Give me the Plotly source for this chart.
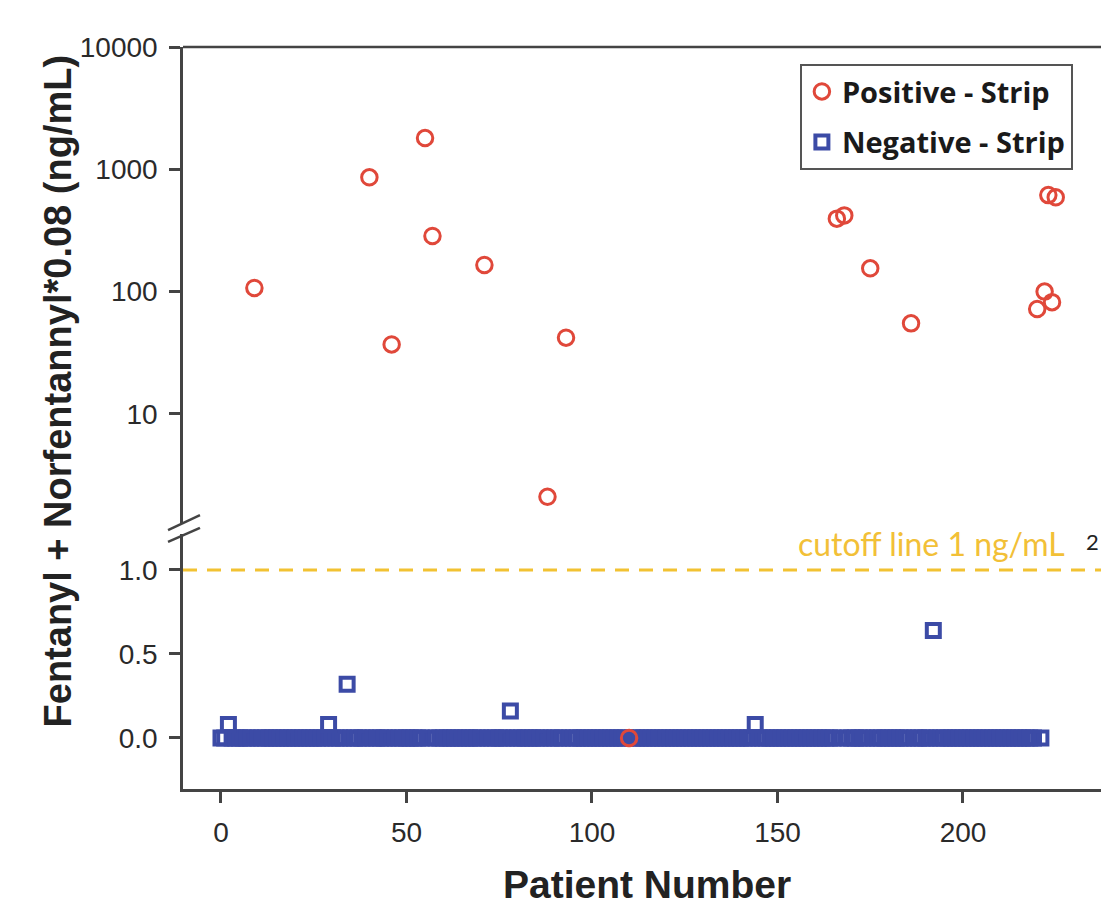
import plotly.graph_objects as go

# ---------------- data ----------------
# Positive - Strip (upper, log panel)
pos_x = [9, 40, 46, 55, 57, 71, 88, 93, 166, 168, 175, 186, 223, 225, 222, 224, 220]
pos_y = [107, 860, 37, 1800, 285, 165, 2.1, 42, 395, 420, 155, 55, 615, 590, 100, 82, 72]
# Positive - Strip (lower, linear panel)
pos_low_x = [110]
pos_low_y = [0.0]

# Negative - Strip raised values
neg_raised_x = [2, 29, 34, 78, 144, 192]
neg_raised_y = [0.08, 0.08, 0.32, 0.16, 0.08, 0.64]
# Negative - Strip at zero (patient numbers)
neg_zero_x = [
    0, 1, 3, 4, 5, 6, 7, 8, 10, 11, 12, 13, 14, 15, 16, 17, 18, 19, 20,
    21, 22, 23, 24, 25, 26, 27, 28, 30, 31, 32, 33, 35, 36, 37, 38, 39,
    41, 42, 43, 44, 45, 47, 48, 49, 50, 51, 52, 53, 54, 56, 58, 59, 60,
    61, 62, 63, 64, 65, 66, 67, 68, 69, 70, 72, 73, 74, 75, 76, 77, 79, 80,
    81, 82, 83, 84, 85, 86, 87, 89, 90, 91, 92, 94, 95, 96, 97, 98, 99, 100,
    101, 102, 103, 104, 105, 106, 107, 108, 109, 111, 112, 113, 114, 115,
    116, 117, 118, 119, 120, 121, 122, 123, 124, 125, 126, 127, 128, 129,
    130, 131, 132, 133, 134, 135, 136, 137, 138, 139, 140, 141, 142, 143,
    145, 146, 147, 148, 149, 150, 151, 152, 153, 154, 155, 156, 157, 158,
    159, 160, 161, 162, 163, 164, 165, 167, 169, 170, 171, 172, 173, 174,
    176, 177, 178, 179, 180, 181, 182, 183, 184, 185, 187, 188, 189, 190,
    191, 193, 194, 195, 196, 197, 198, 199, 200, 201, 202, 203, 204, 205,
    206, 207, 208, 209, 210, 211, 212, 213, 214, 215, 216, 217, 218, 219, 221,
]
neg_zero_y = [0.0] * len(neg_zero_x)

cutoff_value = 1.0
x_ticks = [0, 50, 100, 150, 200]
low_ticks = [0.0, 0.5, 1.0]
low_ticktext = ["0.0", "0.5", "1.0"]
log_ticks = [10, 100, 1000, 10000]
log_ticktext = ["10", "100", "1000", "10000"]

# ---------------- style ----------------
RED = "#e0483a"
BLUE = "#3c4ba6"
AX = "#444444"
TICKFONT = dict(family="Liberation Sans, Arial", size=28, color="#2a2a2a")

fig = go.Figure()

fig.add_trace(go.Scatter(
    x=neg_zero_x + neg_raised_x, y=neg_zero_y + neg_raised_y,
    xaxis="x", yaxis="y", mode="markers", name="Negative - Strip",
    legendgroup="neg", legendrank=2,
    marker=dict(symbol="square-open", size=13, color=BLUE, line=dict(width=4, color=BLUE)),
))
fig.add_trace(go.Scatter(
    x=pos_x, y=pos_y, xaxis="x", yaxis="y2", mode="markers", name="Positive - Strip",
    legendgroup="pos", legendrank=1,
    marker=dict(symbol="circle-open", size=15.5, color=RED, line=dict(width=3, color=RED)),
))
fig.add_trace(go.Scatter(
    x=pos_low_x, y=pos_low_y, xaxis="x", yaxis="y", mode="markers", name="Positive - Strip",
    legendgroup="pos", showlegend=False,
    marker=dict(symbol="circle-open", size=15.5, color=RED, line=dict(width=3, color=RED)),
))

axis_common = dict(
    showline=True, linecolor=AX, linewidth=2.5, ticks="outside", ticklen=11,
    tickwidth=2.5, tickcolor=AX, tickfont=TICKFONT, showgrid=False, zeroline=False,
)

fig.update_layout(
    width=1101, height=912,
    margin=dict(l=183, r=0, t=47, b=123),
    plot_bgcolor="white", paper_bgcolor="white",
    xaxis=dict(range=[-10.24, 237.2], domain=[0, 1], anchor="y",
               tickvals=x_ticks, ticklabelstandoff=6, **axis_common),
    yaxis=dict(domain=[0, 0.343], range=[-0.3036, 1.2113], anchor="x",
               tickvals=low_ticks, ticktext=low_ticktext, ticklabelstandoff=6, **axis_common),
    yaxis2=dict(type="log", domain=[0.357, 1], range=[0.099, 4], anchor="x",
                tickvals=log_ticks, ticktext=log_ticktext, ticklabelstandoff=6, **axis_common),
    legend=dict(x=0.672, y=0.977, xanchor="left", yanchor="top",
                bordercolor="#555555", borderwidth=2, bgcolor="white",
                font=dict(family="Open Sans", size=29, color="#1a1a1a", weight="bold"),
                tracegroupgap=10),
    showlegend=True,
)

# cutoff line
fig.add_shape(type="line", xref="paper", x0=0, x1=1, yref="y", y0=cutoff_value, y1=cutoff_value,
              line=dict(color="#f2c232", width=3, dash="14px,10px"), layer="above")
# top spine
fig.add_shape(type="line", xref="paper", x0=0, x1=1, yref="paper", y0=1, y1=1,
              line=dict(color=AX, width=2.5))
# axis break marks
fig.add_shape(type="line", xref="paper", yref="paper", x0=-0.0163, x1=0.0185, y0=0.349, y1=0.369,
              line=dict(color=AX, width=2.5), layer="above")
fig.add_shape(type="line", xref="paper", yref="paper", x0=-0.0163, x1=0.0185, y0=0.333, y1=0.352,
              line=dict(color=AX, width=2.5), layer="above")

fig.add_annotation(text="Fentanyl + Norfentannyl*0.08 (ng/mL)", textangle=-90,
                   xref="paper", yref="paper", x=-0.136, y=0.536, xanchor="center", yanchor="middle",
                   showarrow=False, font=dict(family="Liberation Sans, Arial", size=38, color="#222222", weight="bold"))
fig.add_annotation(text="Patient Number", xref="paper", yref="paper", x=0.505, y=-0.129,
                   xanchor="center", yanchor="middle", showarrow=False,
                   font=dict(family="Liberation Sans, Arial", size=39, color="#222222", weight="bold"))
fig.add_annotation(text="cutoff line 1 ng/mL", xref="paper", yref="y", x=0.815, y=1.16,
                   xanchor="center", yanchor="middle", showarrow=False,
                   font=dict(family="Lato", size=32, color="#f2c037"))
fig.add_annotation(text="2", xref="paper", yref="y", x=1.0, y=1.17,
                   xanchor="right", yanchor="middle", showarrow=False,
                   font=dict(family="Lato", size=22, color="#222222"))

fig.write_html("out.html", config={"displayModeBar": False},
               post_script="document.body.style.margin='0px';")
